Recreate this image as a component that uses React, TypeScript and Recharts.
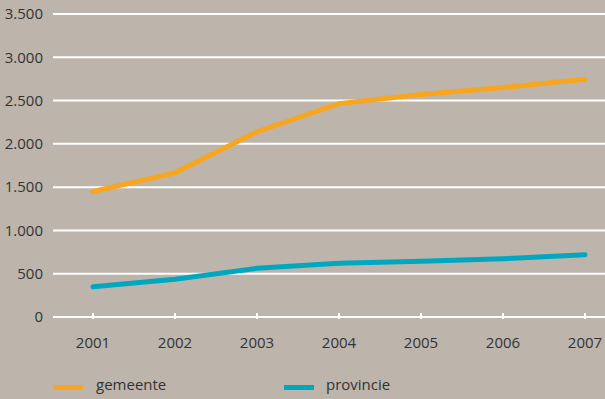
import React from 'react';
import { LineChart, Line, XAxis, YAxis, CartesianGrid } from 'recharts';

const years = ['2001', '2002', '2003', '2004', '2005', '2006', '2007'];
const gemeente = [1450, 1665, 2140, 2465, 2570, 2650, 2745];
const provincie = [350, 435, 562, 620, 645, 673, 719];
const yTicks = [0, 500, 1000, 1500, 2000, 2500, 3000, 3500];

const data = years.map((y, i) => ({ year: y, gemeente: gemeente[i], provincie: provincie[i] }));

const BG = '#bdb5ac';
const ORANGE = '#f8a61e';
const CYAN = '#00a8bf';
const TEXT = '#333333';
const FONT = '"Open Sans", sans-serif';

const fmt = (v: number) => v.toLocaleString('de-DE');

const XTick = (props: any) => {
  const { x, y, payload } = props;
  return (
    <g>
      <line x1={x} x2={x} y1={y - 6} y2={y} stroke="#ffffff" strokeWidth={2} />
      <text x={x} y={y + 18} dy="0.71em" textAnchor="middle" fill={TEXT} fontSize={15} fontFamily={FONT}>
        {payload.value}
      </text>
    </g>
  );
};

export default function App() {
  return (
    <div style={{ position: 'absolute', left: 0, top: 0, width: 605, height: 399, background: BG, overflow: 'hidden' }}>
      <LineChart width={605} height={399} data={data} margin={{ top: 14, right: 0, left: 0, bottom: 42 }}>
        <CartesianGrid vertical={false} stroke="#ffffff" strokeWidth={2} />
        <XAxis
          dataKey="year"
          axisLine={{ stroke: '#ffffff', strokeWidth: 2 }}
          tickLine={false}
          tickSize={0}
          tick={<XTick />}
          padding={{ left: 40, right: 20 }}
          height={40}
          interval={0}
        />
        <YAxis
          domain={[0, 3500]}
          ticks={yTicks}
          width={53}
          axisLine={false}
          tickLine={false}
          tickSize={0}
          tickMargin={10}
          tickFormatter={fmt}
          tick={{ fill: TEXT, fontSize: 15, fontFamily: FONT }}
        />
        <Line type="linear" dataKey="gemeente" stroke={ORANGE} strokeWidth={5} dot={false} isAnimationActive={false} strokeLinecap="round" />
        <Line type="linear" dataKey="provincie" stroke={CYAN} strokeWidth={5} dot={false} isAnimationActive={false} strokeLinecap="round" />
      </LineChart>
      <div style={{ position: 'absolute', left: 53, top: 374, fontFamily: FONT, fontSize: 15, color: TEXT, display: 'flex', alignItems: 'center' }}>
        <span style={{ display: 'inline-block', width: 30, height: 5, background: ORANGE, marginTop: 6 }} />
        <span style={{ marginLeft: 13 }}>gemeente</span>
      </div>
      <div style={{ position: 'absolute', left: 284, top: 374, fontFamily: FONT, fontSize: 15, color: TEXT, display: 'flex', alignItems: 'center' }}>
        <span style={{ display: 'inline-block', width: 30, height: 5, background: CYAN, marginTop: 6 }} />
        <span style={{ marginLeft: 12 }}>provincie</span>
      </div>
    </div>
  );
}
